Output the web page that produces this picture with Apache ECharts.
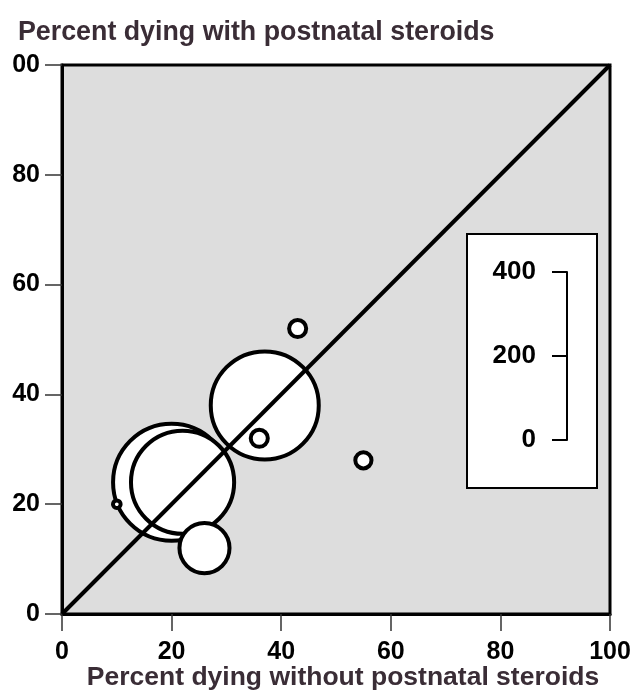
<!DOCTYPE html>
<html>
<head>
<meta charset="utf-8">
<script src="https://cdn.jsdelivr.net/npm/echarts@6/dist/echarts.min.js"></script>
<style>html,body{margin:0;padding:0;background:#fff;}#c{width:634px;height:691px;}</style>
</head>
<body>
<div id="c"></div>
<script>
// Data
var withoutSteroids = [20, 22, 26, 37, 36, 43, 55, 10];   // x, percent dying without
var withSteroids    = [24, 24, 12, 38, 32, 52, 28, 20];   // y, percent dying with
var sampleSize      = [470, 365, 86, 400, 10, 10, 9, 2];  // bubble size
var xTickLabels = ['0', '20', '40', '60', '80', '100'];
var yTickLabels = ['0', '20', '40', '60', '80', '00'];
var sizeTickLabels = ['0', '200', '400'];
var diagonalX = [0, 100];
var diagonalY = [0, 100];

var FONT = '"Liberation Sans", Arial, Helvetica, sans-serif';
var TITLE_COLOR = '#3a2d36';

var bubbles = withoutSteroids.map(function (x, i) {
  return [x, withSteroids[i], sampleSize[i]];
});
var diagonal = diagonalX.map(function (x, i) { return [x, diagonalY[i]]; });

var chart = echarts.init(document.getElementById('c'));
chart.setOption({
  animation: false,
  backgroundColor: '#ffffff',
  title: {
    text: 'Percent dying with postnatal steroids',
    left: 13, top: 14,
    textStyle: { fontFamily: FONT, fontWeight: 'bold', fontSize: 26.8, color: TITLE_COLOR }
  },
  grid: [
    { left: 62, top: 65, width: 548, height: 549, show: true, containLabel: false,
      outerBoundsMode: 'none',
      backgroundColor: '#dddddd', borderColor: '#000', borderWidth: 3 },
    { left: 567, top: 272, width: 1, height: 168, show: false, containLabel: false,
      outerBoundsMode: 'none' }
  ],
  graphic: [
    { type: 'rect', left: 466, top: 233, z: 5,
      shape: { width: 130, height: 254 },
      style: { fill: '#ffffff', stroke: '#000', lineWidth: 2 } }
  ],
  xAxis: [
    { type: 'value', gridIndex: 0, min: 0, max: 100, interval: 20,
      name: 'Percent dying without postnatal steroids',
      nameLocation: 'middle', nameGap: 50, nameMoveOverlap: false,
      nameTextStyle: { fontFamily: FONT, fontWeight: 'bold', fontSize: 26.5, color: TITLE_COLOR, padding: [0, 0, 0, 14] },
      axisLine: { show: true, lineStyle: { color: '#000', width: 3 } },
      axisTick: { show: true, inside: false, length: 17, lineStyle: { color: '#333', width: 1.5 } },
      axisLabel: { margin: 26, fontFamily: FONT, fontWeight: 'bold', fontSize: 25, color: '#000',
        formatter: function (v) { return xTickLabels[Math.round(v / 20)]; } },
      splitLine: { show: false } },
    { type: 'value', gridIndex: 1, show: false, min: 0, max: 1 }
  ],
  yAxis: [
    { type: 'value', gridIndex: 0, min: 0, max: 100, interval: 20,
      axisLine: { show: true, lineStyle: { color: '#000', width: 3 } },
      axisTick: { show: true, inside: false, length: 17, lineStyle: { color: '#333', width: 1.5 } },
      axisLabel: { margin: 22, fontFamily: FONT, fontWeight: 'bold', fontSize: 25, color: '#000',
        formatter: function (v) { return yTickLabels[Math.round(v / 20)]; } },
      splitLine: { show: false } },
    { type: 'value', gridIndex: 1, min: 0, max: 400, interval: 200, position: 'left', z: 10,
      axisLine: { show: true, lineStyle: { color: '#000', width: 2 } },
      axisTick: { show: true, inside: false, length: 15, lineStyle: { color: '#000', width: 2 } },
      axisLabel: { margin: 31, fontFamily: FONT, fontWeight: 'bold', fontSize: 26, color: '#000',
        padding: [12, 0, 0, 0],
        formatter: function (v) { return sizeTickLabels[Math.round(v / 200)]; } },
      splitLine: { show: false } }
  ],
  series: [
    { type: 'scatter', xAxisIndex: 0, yAxisIndex: 0, z: 2,
      data: bubbles,
      symbol: 'circle',
      symbolSize: function (d) { return Math.sqrt(d[2]) * 5.4; },
      itemStyle: { color: '#ffffff', borderColor: '#000', borderWidth: 4, opacity: 1 },
      emphasis: { disabled: true } },
    { type: 'line', xAxisIndex: 0, yAxisIndex: 0, z: 3,
      data: diagonal, showSymbol: false, symbol: 'none',
      lineStyle: { color: '#000', width: 4 } }
  ]
});
</script>
</body>
</html>
